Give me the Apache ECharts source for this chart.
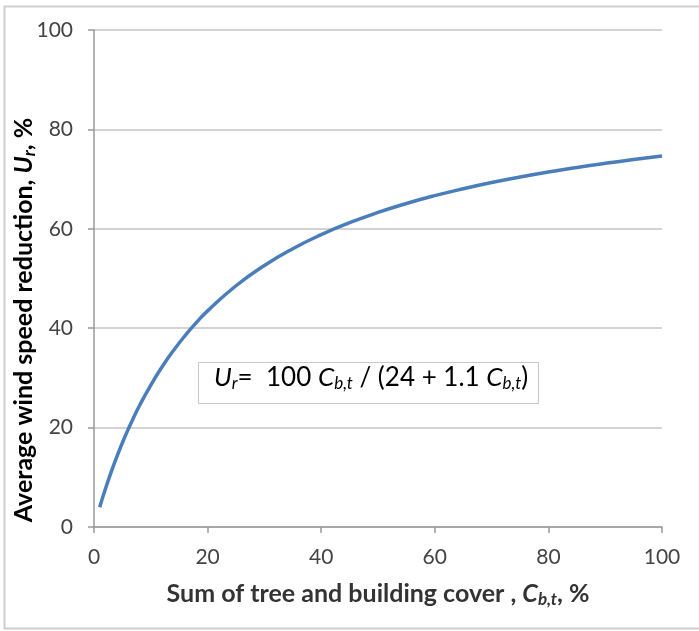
<!DOCTYPE html>
<html>
<head>
<meta charset="utf-8">
<script src="https://cdn.jsdelivr.net/npm/echarts@6/dist/echarts.min.js"></script>
<style>html,body{margin:0;padding:0;background:#fff;}#c{width:699px;height:631px;}</style>
</head>
<body>
<div id="c"></div>
<script>
// Data
var coverValues = [1, 2, 3, 4, 5, 6, 7, 8, 10, 12, 14, 16, 18, 20, 25, 30, 35, 40, 45, 50, 55, 60, 65, 70, 75, 80, 85, 90, 95, 100];
var reductionValues = [3.98, 7.63, 10.99, 14.08, 16.95, 19.61, 22.08, 24.39, 28.57, 32.26, 35.53, 38.46, 41.10, 43.48, 48.54, 52.63, 56.00, 58.82, 61.22, 63.29, 65.09, 66.67, 68.06, 69.31, 70.42, 71.43, 72.34, 73.17, 73.93, 74.63];
var xTicks = [0, 20, 40, 60, 80, 100];
var yTicks = [0, 20, 40, 60, 80, 100];

var FONT = 'Lato, "Open Sans", sans-serif';
var pts = coverValues.map(function (c, i) { return [c, reductionValues[i]]; });

var titleRich = {
  b: { fontSize: 25, fontWeight: 'bold', color: '#333', fontFamily: FONT },
  bi: { fontSize: 25, fontWeight: 'bold', fontStyle: 'italic', color: '#333', fontFamily: FONT },
  sub: { fontSize: 17, fontWeight: 'bold', fontStyle: 'italic', color: '#333', fontFamily: FONT, padding: [11, 0, 0, 0] }
};

var chart = echarts.init(document.getElementById('c'), null, { renderer: 'canvas' });
chart.setOption({
  backgroundColor: '#fff',
  animation: false,
  grid: { left: 94, right: 37, top: 30, bottom: 104, containLabel: false, outerBoundsMode: 'none' },
  xAxis: {
    type: 'value', min: 0, max: 100, interval: 20,
    axisLine: { show: true, lineStyle: { color: '#999', width: 1.5 } },
    axisTick: { show: true, length: 6, lineStyle: { color: '#999', width: 1.5 } },
    splitLine: { show: false },
    axisLabel: { color: '#444', fontSize: 21, fontFamily: FONT, margin: 20 },
    name: '{b|Sum of tree and building cover , }{bi|C}{sub|b,t}{b|, %}',
    nameLocation: 'middle', nameGap: 53,
    nameTextStyle: { rich: titleRich }
  },
  yAxis: {
    type: 'value', min: 0, max: 100, interval: 20,
    axisLine: { show: true, lineStyle: { color: '#999', width: 1.5 } },
    axisTick: { show: true, length: 6, lineStyle: { color: '#999', width: 1.5 } },
    splitLine: { show: true, lineStyle: { color: '#c4c4c4', width: 1.5 } },
    axisLabel: { color: '#444', fontSize: 21, fontFamily: FONT, margin: 21 }
  },
  series: [{
    type: 'line', data: pts, smooth: true, showSymbol: false,
    lineStyle: { color: '#4a7ebb', width: 3.5 }
  }],
  graphic: [
    { type: 'rect', shape: { x: 4.5, y: 6.5, width: 700, height: 622 }, style: { fill: 'none', stroke: '#cfcfcf', lineWidth: 2 }, silent: true, z: -1 },
    { type: 'text', x: 24, y: 320, rotation: Math.PI / 2, z: 5,
      style: {
        text: '{b|Average wind speed reduction, }{bi|U}{sub|r}{b|, %}',
        align: 'center', verticalAlign: 'middle',
        rich: titleRich
      }
    },
    { type: 'rect', shape: { x: 198.5, y: 362.5, width: 340, height: 41 }, style: { fill: '#fff', stroke: '#c8c8c8', lineWidth: 1 }, z: 10 },
    { type: 'text', left: 214, top: 365, z: 11,
      style: {
        text: '{i|U}{s|r}{n|=  100 }{i|C}{s|b,t}{n| / (24 + 1.1 }{i|C}{s|b,t}{n|)}',
        rich: {
          n: { fontSize: 26, color: '#333', fontFamily: FONT },
          i: { fontSize: 26, fontStyle: 'italic', color: '#333', fontFamily: FONT },
          s: { fontSize: 17, fontStyle: 'italic', color: '#333', fontFamily: FONT, padding: [12, 0, 0, 0] }
        }
      }
    }
  ]
});
</script>
</body>
</html>
